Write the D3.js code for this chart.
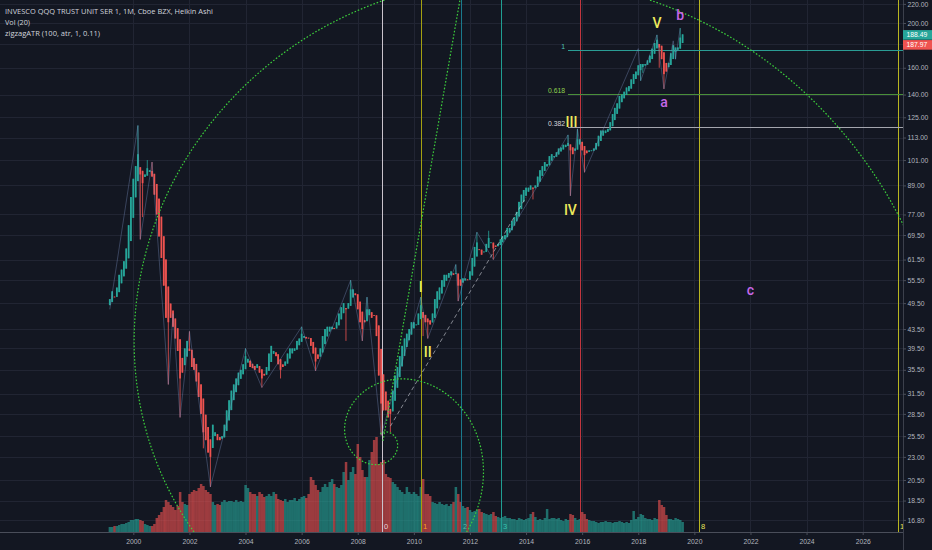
<!DOCTYPE html>
<html><head><meta charset="utf-8">
<script src="https://cdn.jsdelivr.net/npm/d3@7"></script>
<style>
html,body{margin:0;padding:0;background:#131722;overflow:hidden;}
svg{display:block;}
</style></head><body>
<svg id="chart" width="932" height="550"></svg>
<script>
// ---------------- DATA ----------------
const firstMonth = [1999, 3];          // first monthly bar (Mar 1999)
const firstOpen = 49;                  // first Heikin Ashi open
const haClose = [
  // 1999 (Mar-Dec)
  50.5, 52.5, 51, 53.5, 57, 58.5, 61, 65, 73, 84,
  // 2000
  92, 98, 104, 94, 90, 94, 97, 96, 93, 85, 77, 69,
  // 2001
  62, 54, 46, 45, 46, 44, 41.5, 39, 34, 35, 39.5, 41,
  // 2002
  39, 36, 35.5, 33.5, 31, 28.5, 26, 25, 23.5, 23, 27, 26,
  // 2003
  25, 25, 25.5, 27, 29, 30.5, 32, 33, 34, 35, 35.5, 36.5,
  // 2004
  38, 37.5, 36, 35.8, 35.5, 36.5, 35, 34, 34.5, 36, 38.5, 40,
  // 2005
  39, 38, 36.5, 35.5, 36, 37, 38.5, 39.5, 39.5, 39.5, 41, 41.5,
  // 2006
  42.5, 42, 41.5, 41.5, 40, 38.5, 37, 37.5, 39.5, 42, 43.5, 44,
  // 2007
  44, 44, 43.5, 45, 47, 48.5, 49.5, 48, 49.5, 53, 53, 51.5,
  // 2008
  48, 45, 43.5, 45, 48, 48, 46, 46.5, 42, 34.5, 30, 29,
  // 2009
  29, 28, 28.5, 32, 34.5, 36, 38, 40, 41.5, 42.5, 43.5, 45,
  // 2010
  45, 44.5, 47, 49, 46, 45, 45, 44.5, 47, 50.5, 52.5, 53.5,
  // 2011
  55.5, 57, 57, 57.5, 58, 57, 57.5, 54, 54, 56, 56, 55.5,
  // 2012
  58, 62, 65.5, 67, 64.5, 63, 64, 66.5, 68.5, 67, 65, 65.5,
  // 2013
  66.5, 68, 69, 69.5, 72, 72, 74.5, 76, 78, 82, 85, 87,
  // 2014
  88, 88, 89, 87.5, 89, 93, 96, 98, 100, 99, 103, 104,
  // 2015
  103, 105, 107, 107.5, 109, 109, 110, 106, 104, 107, 112, 112,
  // 2016
  106, 103.5, 104.5, 106, 106, 107, 110, 114, 117, 117, 117, 118,
  // 2017
  122, 127, 131, 134, 139, 140, 142, 145, 146, 151, 155, 157,
  // 2018
  162, 163, 163, 163, 166, 170, 176, 181, 184, 177, 167, 155,
  // 2019 (Jan-Aug)
  157, 164, 172, 179, 177, 177, 186, 189
];
const volume = [
  5,5,6,6,7,8,8,9,10,12,
  12,13,13,12,11,8,7,6,6,8,14,17,
  20,25,32,30,27,25,22,26,40,30,28,27,
  38,40,42,41,44,48,46,42,40,38,30,27,
  28,27,30,32,30,31,31,30,32,30,31,30,
  47,44,40,38,38,36,40,38,35,36,38,36,
  40,38,33,32,31,33,30,32,32,34,31,33,
  35,36,34,38,55,52,47,42,40,45,48,45,
  50,53,48,45,44,47,60,70,52,60,65,58,
  88,75,62,55,55,72,80,92,95,68,70,72,
  58,55,54,50,48,45,42,40,38,45,40,38,
  40,38,36,45,53,38,38,36,30,29,28,30,
  28,27,28,26,28,30,45,38,30,26,24,25,
  22,20,21,22,23,20,19,18,17,18,20,16,
  15,14,15,16,14,14,13,13,12,14,13,12,
  13,14,18,20,15,12,13,12,14,23,13,14,
  14,13,14,12,11,13,12,18,17,14,12,13,
  20,18,13,12,11,11,10,9,10,10,11,10,
  10,9,10,10,11,10,9,10,9,12,21,13,
  15,18,17,14,13,13,12,14,13,32,27,25,
  17,13,13,12,14,13,12,10
];
const wickHigh = [["2000-03",120],["2000-07",101],["2000-09",100],["2002-01",43],["2004-01",39.5],
  ["2006-01",44],["2007-10",55.5],["2008-05",51],["2010-04",51],["2011-07",60],["2012-04",70.5],
  ["2012-09",71],["2015-07",114.5],["2015-11",118],["2018-09",188.5],["2019-07",195]];
const wickLow = [["2000-04",68],["2000-05",76],["2001-04",33],["2001-09",28],["2002-07",24],
  ["2002-10",19.8],["2004-08",32.5],["2005-04",34],["2006-07",35.3],["2007-08",41],["2008-03",41],
  ["2008-11",25.6],["2009-03",26],["2010-05",42],["2010-07",41.5],["2011-08",50],["2012-11",61.5],
  ["2014-04",83],["2015-08",84.5],["2016-02",95],["2018-02",150],["2018-03",156],["2018-10",160],
  ["2018-12",144],["2019-05",167],["2019-08",181]];
const zigzagPivots = [["1999-03",48],["2000-03",120],["2000-04",68],["2000-09",100],["2001-04",33],
  ["2001-06",47],["2001-09",28],["2002-01",43],["2002-10",19.8],["2004-01",39.5],["2004-08",32.5],
  ["2006-01",44],["2006-07",35.3],["2007-10",55.5],["2008-03",41],["2008-05",51],["2008-11",25.6],
  ["2010-04",51],["2010-07",41.5],["2011-07",60],["2011-08",50],["2012-04",70.5],["2012-11",61.5],
  ["2015-07",114.5],["2015-08",84.5],["2015-11",118],["2016-02",95],["2018-01",176],["2018-02",150],
  ["2018-09",188.5],["2018-12",144],["2019-04",183],["2019-05",167],["2019-07",195]];

const priceTicks = [220,200,180,160,140,125,113,101,89,77,69.5,61.5,55.5,49.5,43.5,39.5,35.5,31.5,28.5,25.5,23,20.5,18.5,16.8];
const yearTicks = [2000,2002,2004,2006,2008,2010,2012,2014,2016,2018,2020,2022,2024,2026];

const fibTimeStart = "2008-11-08";
const fibTimeUnitDays = 517;
const fibTimeLevels = [0,1,2,3,5,8,13];
const fibTimeLabels = ["0","1","2","3","","8","13"];

const fibRetrStart = "2015-07";
const fibRetrLow = 84.4, fibRetrHigh = 174.8;
const fibRetrLevels = [0.382, 0.618, 1];
const fibRetrLabels = ["0.382","0.618","1"];

const trendDashed = [["2009-03",26.8],["2014-01",84]];
// spiral: inner turns around the 2008 low, outer turn around a wider centre
const spiralInnerCenter = ["2008-11-25", 24.9];
const spiralOuterCenter = ["2012-01-02", 33.7];
const spiralAxisPoint = ["2011-08-24", 224.3];

const waveLabels = [
  {t:"I",   d:"2010-04", p:53.6, k:"y"},
  {t:"II",  d:"2010-07", p:38.8, k:"y"},
  {t:"III", d:"2015-08-15", p:122.1, k:"y"},
  {t:"IV",  d:"2015-08", p:78.7, k:"y"},
  {t:"V",   d:"2018-09", p:200, k:"y"},
  {t:"a",   d:"2018-12", p:134.9, k:"p"},
  {t:"b",   d:"2019-07", p:208, k:"p"},
  {t:"c",   d:"2022-01", p:52.8, k:"p"}
];
const lastPrices = [188.49, 187.97];
const headerLines = ["INVESCO QQQ TRUST UNIT SER 1, 1M, Cboe BZX, Heikin Ashi","Vol (20)","zigzagATR (100, atr, 1, 0.11)"];

// ---------------- STYLE / LAYOUT ----------------
const W = 932, H = 550, plotR = 903, plotB = 532;
const UP = "#26a69a", DN = "#ef5350";
const BG = "#131722", GRID = "#212533", TXT = "#b2b5be";

const parseD = s => { const p = s.split("-").map(Number); return new Date(p[0], p[1]-1, p[2]||1); };
const x = d3.scaleTime().domain([new Date(2000,0,1), new Date(2026,0,1)]).range([133.3, 862.7]);
const y = d3.scaleLog().domain([200, 16.8]).range([23, 519.9]);
const yv = d3.scaleLinear().domain([0,100]).range([plotB, plotB-100]);

const svg = d3.select("#chart");
svg.append("rect").attr("width",W).attr("height",H).attr("fill",BG);
const defs = svg.append("defs");
defs.append("clipPath").attr("id","plotclip").append("rect").attr("x",0).attr("y",0).attr("width",plotR).attr("height",plotB);

// build Heikin Ashi bars
const hiMap = new Map(wickHigh), loMap = new Map(wickLow);
const bars = [];
let po = null, pc = null;
haClose.forEach((c,i) => {
  const date = new Date(firstMonth[0], firstMonth[1]-1+i, 1);
  const key = d3.timeFormat("%Y-%m")(date);
  const o = i === 0 ? firstOpen : (po + pc) / 2;
  let hi = Math.max(o,c), lo = Math.min(o,c);
  if (hiMap.has(key)) hi = Math.max(hi, hiMap.get(key));
  if (loMap.has(key)) lo = Math.min(lo, loMap.get(key));
  bars.push({date, o, c, hi, lo, v: volume[i], up: c >= o});
  po = o; pc = c;
});
const step = x(new Date(2001,0,1)) - x(new Date(2000,0,1));
const barW = step/12;

// grid
const grid = svg.append("g");
grid.selectAll("line.h").data(priceTicks).join("line")
  .attr("x1",0).attr("x2",plotR).attr("y1",d=>Math.round(y(d))+0.5).attr("y2",d=>Math.round(y(d))+0.5)
  .attr("stroke",GRID).attr("stroke-width",1);
grid.selectAll("line.v").data(yearTicks).join("line")
  .attr("x1",d=>Math.round(x(new Date(d,0,1)))+0.5).attr("x2",d=>Math.round(x(new Date(d,0,1)))+0.5)
  .attr("y1",0).attr("y2",plotB).attr("stroke",GRID).attr("stroke-width",1);

const plot = svg.append("g").attr("clip-path","url(#plotclip)");

// volume
plot.append("g").selectAll("rect").data(bars).join("rect")
  .attr("x",d=>x(d.date)-barW/2).attr("width",barW+0.15)
  .attr("y",d=>yv(d.v)).attr("height",d=>plotB-yv(d.v))
  .attr("fill",d=>d.up?UP:DN).attr("fill-opacity",0.62);

// fib time zones
const ftColors = ["#c9c3cc","#a3a010","#1a7a8c","#1f9e92","#c2363e","#b8b520","#b8b520"];
const ftLabelColors = ["#e6d3da","#ff9d1a","#5fb3ab","#36c3b2","#ef5350","#e8e85a","#e8e85a"];
const ft0 = parseD(fibTimeStart);
const ftG = plot.append("g");
fibTimeLevels.forEach((lv,i) => {
  const d = new Date(ft0.getTime() + lv*fibTimeUnitDays*86400000);
  const xx = Math.round(x(d))+0.5;
  ftG.append("line").attr("x1",xx).attr("x2",xx).attr("y1",0).attr("y2",plotB)
    .attr("stroke",ftColors[i]).attr("stroke-width",1);
  if (fibTimeLabels[i]) ftG.append("text").attr("x",xx+1.5).attr("y",529).text(fibTimeLabels[i])
    .attr("fill",ftLabelColors[i]).attr("font-family","Liberation Sans, Arial, sans-serif").attr("font-size",7.5);
});

// fib retracement lines
const frColors = ["#a4a6ae","#4a8f3a","#2a9d95"];
const frLabelColors = ["#d8d8dc","#8fd14f","#4fc3b8"];
const frX = x(parseD(fibRetrStart));
fibRetrLevels.forEach((lv,i) => {
  const p = fibRetrLow + lv*(fibRetrHigh - fibRetrLow);
  const yy = Math.round(y(p))+0.5;
  plot.append("line").attr("x1",frX).attr("x2",plotR).attr("y1",yy).attr("y2",yy)
    .attr("stroke",frColors[i]).attr("stroke-width",1);
  plot.append("text").attr("x",frX-3).attr("y",yy-2).attr("text-anchor","end").text(fibRetrLabels[i])
    .attr("fill",frLabelColors[i]).attr("font-family","Liberation Sans, Arial, sans-serif").attr("font-size",6.8);
});

// candles
const cg = plot.append("g");
cg.selectAll("line").data(bars).join("line")
  .attr("x1",d=>x(d.date)).attr("x2",d=>x(d.date)).attr("y1",d=>y(d.hi)).attr("y2",d=>y(d.lo))
  .attr("stroke",d=>d.up?UP:DN).attr("stroke-width",0.8);
cg.selectAll("rect").data(bars).join("rect")
  .attr("x",d=>x(d.date)-barW*0.38).attr("width",barW*0.76)
  .attr("y",d=>y(Math.max(d.o,d.c))).attr("height",d=>Math.max(0.8,Math.abs(y(d.o)-y(d.c))))
  .attr("fill",d=>d.up?UP:DN);

// zigzag
plot.append("path").datum(zigzagPivots)
  .attr("d", d3.line().x(d=>x(parseD(d[0]))).y(d=>y(d[1])))
  .attr("fill","none").attr("stroke","#7f95c8").attr("stroke-opacity",0.45).attr("stroke-width",0.8);

// dashed trend line
plot.append("line")
  .attr("x1",x(parseD(trendDashed[0][0]))).attr("y1",y(trendDashed[0][1]))
  .attr("x2",x(parseD(trendDashed[1][0]))).attr("y2",y(trendDashed[1][1]))
  .attr("stroke","#c8cad2").attr("stroke-opacity",0.7).attr("stroke-width",0.9).attr("stroke-dasharray","4,3");

// fib spiral + axis ray
const GREEN = "#3ccf3c";
function spiral(center, r0, k, t0, t1) {
  const cx = x(parseD(center[0])), cy = y(center[1]);
  return d3.range(t0, t1, 0.01).map(t => {
    const r = r0*Math.exp(k*t);
    return [cx + r*Math.cos(t), cy + r*Math.sin(t)];
  });
}
const innerPts = spiral(spiralInnerCenter, 14, Math.log((1+Math.sqrt(5))/2)/(Math.PI/2), -1.95, 7.8);
const outerPts = spiral(spiralOuterCenter, 232.5, 0.115, 2.3, 6.4);
[innerPts, outerPts].forEach(pts => {
  plot.append("path").attr("d", d3.line()(pts)).attr("fill","none")
    .attr("stroke",GREEN).attr("stroke-width",1.2).attr("stroke-dasharray","1.6,1.8");
});
const scx = x(parseD(spiralInnerCenter[0])), scy = y(spiralInnerCenter[1]);
const ax = x(parseD(spiralAxisPoint[0])), ay = y(spiralAxisPoint[1]);
plot.append("line").attr("x1",scx).attr("y1",scy).attr("x2",scx+(ax-scx)*1.3).attr("y2",scy+(ay-scy)*1.3)
  .attr("stroke",GREEN).attr("stroke-width",1.2).attr("stroke-dasharray","1.6,1.8");

// wave labels
plot.append("g").selectAll("text").data(waveLabels).join("text")
  .attr("x",d=>x(parseD(d.d))).attr("y",d=>y(d.p)).attr("text-anchor","middle").attr("dominant-baseline","central")
  .attr("fill",d=>d.k==="y"?"#eeea5c":"#c667e8").attr("font-family","Roboto, sans-serif").attr("font-weight",500)
  .attr("font-size",14).text(d=>d.t);

// axes
const axFont = "Liberation Sans, Arial, sans-serif";
const xAxis = svg.append("g").attr("transform",`translate(0,${plotB})`)
  .call(d3.axisBottom(x).tickValues(yearTicks.map(v=>new Date(v,0,1))).tickFormat(d3.timeFormat("%Y")).tickSize(3).tickPadding(4));
xAxis.select(".domain").attr("d",`M0,0.5H${plotR}`).attr("stroke","#4a4e5a");
xAxis.selectAll(".tick line").attr("stroke","#4a4e5a");
xAxis.selectAll(".tick text").attr("fill",TXT).attr("font-family",axFont).attr("font-size",6.8);

const yAxis = svg.append("g").attr("transform",`translate(${plotR},0)`)
  .call(d3.axisRight(y).tickValues(priceTicks).tickFormat(d3.format(".2f")).tickSize(3).tickPadding(1.5));
yAxis.select(".domain").attr("d",`M0.5,0V${H}`).attr("stroke","#3c404c");
yAxis.selectAll(".tick line").attr("stroke","#4a4e5a");
yAxis.selectAll(".tick text").attr("fill",TXT).attr("font-family",axFont).attr("font-size",6.8);

// last price boxes
let prevC = -100;
lastPrices.forEach((p,i) => {
  let yc = y(p);
  if (yc < prevC + 10) yc = prevC + 10;
  prevC = yc;
  svg.append("rect").attr("x",plotR).attr("y",yc-4.8).attr("width",W-plotR).attr("height",9.6)
    .attr("fill", i===0 ? UP : DN);
  svg.append("text").attr("x",plotR+3.5).attr("y",yc).attr("dominant-baseline","central")
    .attr("fill","#ffffff").attr("font-family",axFont).attr("font-size",6.8).text(d3.format(".2f")(p));
});

// header
const hw = [208, 25, 95];
headerLines.forEach((t,i) => {
  svg.append("text").attr("x",5).attr("y",14+i*11).text(t)
    .attr("fill","#d1d4dc").attr("font-family","Open Sans, sans-serif").attr("font-size",8)
    .attr("textLength",hw[i]).attr("lengthAdjust","spacingAndGlyphs");
});
</script>
</body></html>
